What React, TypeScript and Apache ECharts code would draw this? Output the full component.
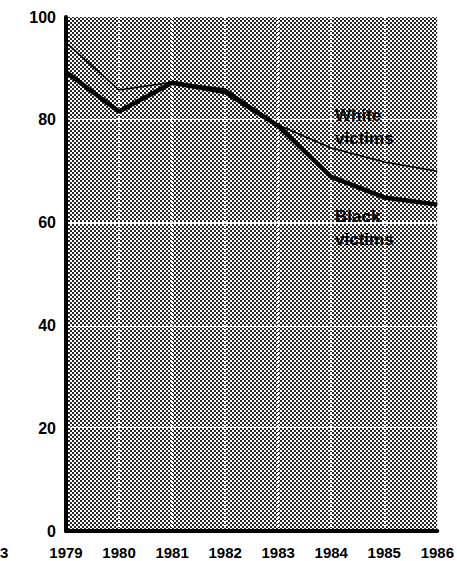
import React, { useEffect, useRef } from "react";
import * as echarts from "echarts";

const years = ["1979", "1980", "1981", "1982", "1983", "1984", "1985", "1986"];
const whiteVictims = [95, 85.8, 87.3, 86, 79, 74.5, 71.8, 70];
const blackVictims = [89.3, 81.6, 87.2, 85.4, 78.8, 68.9, 64.9, 63.5];
const yTicks = { min: 0, max: 100, interval: 20 };

function makePattern(): string {
  const c = document.createElement("canvas");
  c.width = 4;
  c.height = 4;
  const ctx = c.getContext("2d")!;
  ctx.fillStyle = "#ffffff";
  ctx.fillRect(0, 0, 4, 4);
  ctx.fillStyle = "#262626";
  ctx.fillRect(0, 0, 2, 2);
  ctx.fillRect(2, 2, 2, 2);
  return c.toDataURL();
}

export default function App() {
  const ref = useRef<HTMLDivElement>(null);
  useEffect(() => {
    document.body.style.margin = "0";
    const chart = echarts.init(ref.current!, undefined, { renderer: "svg" });
    const font = "'Liberation Sans', Arial, sans-serif";
    const pattern = makePattern();
    chart.setOption({
      animation: false,
      backgroundColor: "#ffffff",
      grid: {
        left: 66,
        right: 19,
        top: 17,
        bottom: 30,
        show: true,
        borderWidth: 0,
        backgroundColor: { image: pattern, repeat: "repeat" },
      },
      xAxis: {
        type: "category",
        data: years,
        boundaryGap: false,
        axisLine: { show: true, lineStyle: { color: "#000", width: 4 } },
        axisTick: { show: false },
        axisLabel: {
          color: "#000",
          fontFamily: font,
          fontWeight: "bold",
          fontSize: 15,
          margin: 14,
        },
        splitLine: {
          show: true,
          lineStyle: { color: "#ffffff", type: [2, 2], width: 2 },
        },
      },
      yAxis: {
        type: "value",
        min: yTicks.min,
        max: yTicks.max,
        interval: yTicks.interval,
        axisLine: { show: true, lineStyle: { color: "#000", width: 4 } },
        axisTick: { show: false },
        axisLabel: {
          color: "#000",
          fontFamily: font,
          fontWeight: "bold",
          fontSize: 16,
          margin: 10,
        },
        splitLine: {
          show: true,
          lineStyle: { color: "#ffffff", type: [2, 2], width: 2 },
        },
      },
      series: [
        {
          name: "White victims",
          type: "line",
          data: whiteVictims,
          symbol: "none",
          lineStyle: { color: "#000", width: 1.6 },
          z: 3,
        },
        {
          name: "Black victims",
          type: "line",
          data: blackVictims,
          symbol: "none",
          lineStyle: { color: "#000", width: 4.5 },
          z: 4,
        },
      ],
      graphic: [
        {
          type: "text",
          left: 335,
          top: 104,
          style: {
            text: "White\nvictims",
            fill: "#000",
            font: `bold 17px ${font}`,
            lineHeight: 23,
          },
          z: 10,
        },
        {
          type: "text",
          left: 335,
          top: 205,
          style: {
            text: "Black\nvictims",
            fill: "#000",
            font: `bold 17px ${font}`,
            lineHeight: 23,
          },
          z: 10,
        },
        {
          type: "text",
          left: 0,
          top: 545,
          style: {
            text: "3",
            fill: "#000",
            font: `bold 15px ${font}`,
          },
        },
      ],
    });
    return () => chart.dispose();
  }, []);
  return <div ref={ref} style={{ width: 457, height: 561 }} />;
}
